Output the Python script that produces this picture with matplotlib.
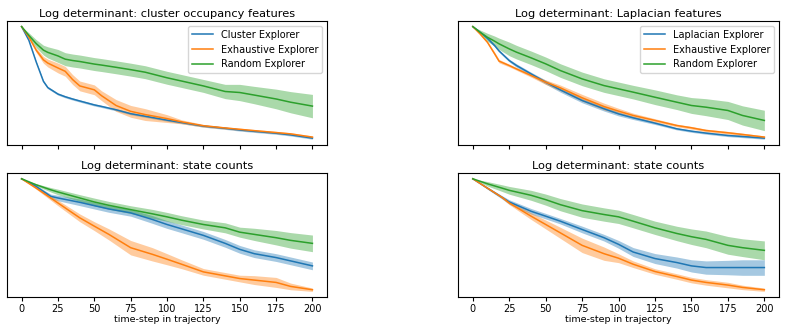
import matplotlib
matplotlib.use('Agg')
import matplotlib.pyplot as plt
import numpy as np

# --- panel 1: cluster occupancy features ---
x_occ = [0, 5, 10, 15, 18, 25, 30, 35, 40, 50, 55, 65, 75, 85, 100, 110, 125, 140, 150, 160, 175, 185, 200]
occ_cluster = [0, -12.3, -31.6, -49.1, -54.7, -60.5, -62.9, -64.9, -66.7, -70.2, -71.6, -74.6, -78.1,
               -80.4, -83.9, -86.0, -89.2, -91.2, -92.7, -93.9, -95.6, -97.1, -100.0]
occ_cluster_sd = [0, 0.5, 0.8, 1, 1, 1, 1, 1, 1, 1, 1, 1, 1, 1, 1, 1, 1, 1, 1, 1, 1, 1, 1]
occ_exh = [0, -9.4, -21.1, -29.8, -32.7, -37.1, -40.1, -47.4, -53.2, -56.7, -62.0, -70.8, -76.0,
           -78.9, -82.5, -85.4, -88.9, -90.9, -92.1, -93.3, -95.0, -96.2, -99.1]
occ_exh_sd = [0, 1, 2, 3, 3.5, 4.4, 4.4, 4.4, 4.4, 4.4, 4.4, 5.3, 5.3, 5.3, 3.5, 1.8, 1.2, 1, 1, 1, 1, 1, 1]
occ_rand = [0, -7.9, -15.2, -21.1, -23.1, -26.3, -29.2, -30.4, -31.3, -33.6, -34.5, -36.5, -38.6,
            -40.9, -45.9, -48.8, -53.2, -58.2, -59.1, -61.4, -64.9, -67.8, -71.3]
occ_rand_sd = [0, 2.3, 3.5, 4.4, 5, 5.8, 5.8, 5.8, 5.8, 5.8, 5.8, 5.8, 5.8, 5.8, 5.8, 5.8, 5.8,
               6.4, 7.3, 7.8, 8.8, 9.5, 10.5]

# --- panel 2: Laplacian features ---
x_lap = [0, 5, 10, 15, 18, 25, 30, 40, 50, 60, 75, 90, 100, 110, 125, 140, 150, 160, 175, 185, 200]
lap_lap = [0, -5.0, -10.3, -16.8, -21.5, -30.0, -34.4, -41.8, -49.1, -55.9, -65.3, -72.6, -77.1,
           -80.6, -85.3, -90.3, -92.4, -94.1, -96.2, -97.1, -98.5]
lap_lap_sd = [0, 0.5, 1, 1, 1, 1.2, 1.5, 1.5, 1.8, 2, 2, 2, 1.8, 1.5, 1.2, 1, 1, 1, 1, 1, 1]
lap_exh = [0, -6.5, -13.8, -24.1, -30.5, -34.4, -37.4, -43.2, -49.1, -54.1, -62.9, -70.6, -74.7,
           -78.5, -82.9, -87.4, -89.4, -91.8, -93.8, -95.3, -97.6]
lap_exh_sd = [0, 0.5, 1, 1.5, 1.5, 1.2, 1.2, 1.5, 2, 2.5, 3, 3, 2.5, 2, 1.5, 1.2, 1.2, 1.2, 1.2, 1.2, 1]
lap_rand = [0, -5.0, -9.4, -12.9, -15.2, -19.7, -22.6, -27.6, -32.9, -38.8, -46.2, -52.1, -55.0,
            -57.9, -62.4, -66.8, -69.7, -71.2, -74.1, -78.5, -82.9]
lap_rand_sd = [0, 2, 3.5, 4.5, 5, 6, 6, 6, 6, 6, 6, 6, 6, 6, 6.5, 6.5, 7, 7.5, 8, 8.5, 9]

# --- panels 3 and 4: state counts ---
x_cnt = [0, 10, 20, 25, 40, 50, 60, 75, 90, 100, 110, 125, 140, 150, 160, 175, 185, 200]
cnt1_clu = [0, -6.9, -15.8, -17.3, -21.2, -24.2, -27.2, -30.7, -36.7, -41.2, -45.1, -51.0,
            -58.2, -63.6, -67.5, -71.0, -74.0, -78.5]
cnt1_clu_sd = [0, 1, 2, 2.5, 3, 3, 3, 3, 3.5, 3.5, 3.5, 3.5, 3.5, 3.5, 3.5, 3.5, 3.5, 3.5]
cnt1_exh = [0, -8.4, -17.3, -21.8, -35.2, -42.7, -50.1, -62.1, -68.1, -72.5, -77.0, -83.9,
            -87.5, -89.9, -91.3, -93.4, -97.0, -100.0]
cnt1_exh_sd = [0, 1, 2, 2.5, 3.5, 4, 5, 6.5, 6, 5, 4, 3, 3, 3, 4, 4.5, 3, 1.5]
cnt1_rand = [0, -5.4, -9.9, -11.9, -17.3, -20.9, -23.9, -27.8, -31.6, -34.3, -37.3, -41.2,
             -44.2, -48.1, -50.1, -53.1, -55.5, -58.2]
cnt1_rand_sd = [0, 1, 2, 2.5, 3, 3.5, 3.5, 3.5, 4, 4, 4, 4, 4.5, 4.5, 5.5, 6.5, 7, 7.5]

cnt2_lap = [0, -8.4, -16.7, -20.9, -29.3, -33.7, -38.2, -45.7, -53.1, -59.1, -66.0, -71.9,
            -75.5, -78.5, -80.0, -80.0, -80.0, -80.0]
cnt2_lap_sd = [0, 1, 1.5, 2, 2.5, 2.5, 2.5, 3, 3, 3.5, 4, 4.5, 5, 5.5, 6, 6.5, 7, 7]
cnt2_exh = [0, -8.4, -16.7, -21.8, -33.7, -41.2, -48.7, -60.0, -67.5, -71.6, -77.0, -83.6,
            -88.1, -91.3, -93.4, -95.8, -97.9, -100.0]
cnt2_exh_sd = [0, 0.5, 1, 1.5, 3, 4, 5, 6.5, 6, 4, 3, 2.5, 2.5, 2.5, 2.5, 2.5, 2, 1.5]
cnt2_rand = [0, -4.5, -8.4, -10.4, -14.9, -18.8, -23.3, -28.7, -32.2, -34.3, -38.2, -44.2,
             -49.3, -52.2, -54.6, -60.0, -62.1, -64.5]
cnt2_rand_sd = [0, 2, 3, 3.5, 4.5, 5, 5.5, 6, 6, 6, 6, 6, 6.5, 7, 7.5, 8, 8, 8.5]

BLUE, ORANGE, GREEN = '#1f77b4', '#ff7f0e', '#2ca02c'

panels = [
    ('Log determinant: cluster occupancy features', x_occ,
     [('Cluster Explorer', occ_cluster, occ_cluster_sd, BLUE),
      ('Exhaustive Explorer', occ_exh, occ_exh_sd, ORANGE),
      ('Random Explorer', occ_rand, occ_rand_sd, GREEN)], True),
    ('Log determinant: Laplacian features', x_lap,
     [('Laplacian Explorer', lap_lap, lap_lap_sd, BLUE),
      ('Exhaustive Explorer', lap_exh, lap_exh_sd, ORANGE),
      ('Random Explorer', lap_rand, lap_rand_sd, GREEN)], True),
    ('Log determinant: state counts', x_cnt,
     [('Cluster Explorer', cnt1_clu, cnt1_clu_sd, BLUE),
      ('Exhaustive Explorer', cnt1_exh, cnt1_exh_sd, ORANGE),
      ('Random Explorer', cnt1_rand, cnt1_rand_sd, GREEN)], False),
    ('Log determinant: state counts', x_cnt,
     [('Laplacian Explorer', cnt2_lap, cnt2_lap_sd, BLUE),
      ('Exhaustive Explorer', cnt2_exh, cnt2_exh_sd, ORANGE),
      ('Random Explorer', cnt2_rand, cnt2_rand_sd, GREEN)], False),
]

fig = plt.figure(figsize=(7.86, 3.33), dpi=100)
rects = [(0.009, 0.565, 0.407, 0.372), (0.583, 0.565, 0.408, 0.372),
         (0.009, 0.108, 0.407, 0.372), (0.583, 0.108, 0.408, 0.372)]

for rect, (title, xs, series, top) in zip(rects, panels):
    ax = fig.add_axes(rect)
    xs = np.array(xs)
    for label, mean, sd, color in series:
        mean = np.array(mean)
        sd = np.array(sd)
        ax.plot(xs, mean, color=color, linewidth=1.1, label=label)
        ax.fill_between(xs, mean - sd, mean + sd, color=color, alpha=0.4, linewidth=0)
    ax.set_title(title, fontsize=8.2, pad=3)
    ax.set_yticks([])
    ax.set_xticks([0, 25, 50, 75, 100, 125, 150, 175, 200])
    ax.tick_params(axis='x', labelsize=7, length=3, pad=2)
    if top:
        ax.set_xticklabels([])
        ax.legend(fontsize=7, loc='upper right', handlelength=2.2)
    else:
        ax.set_xlabel('time-step in trajectory', fontsize=6.8, labelpad=1)

plt.savefig('out.png', dpi=100)
plt.close()
